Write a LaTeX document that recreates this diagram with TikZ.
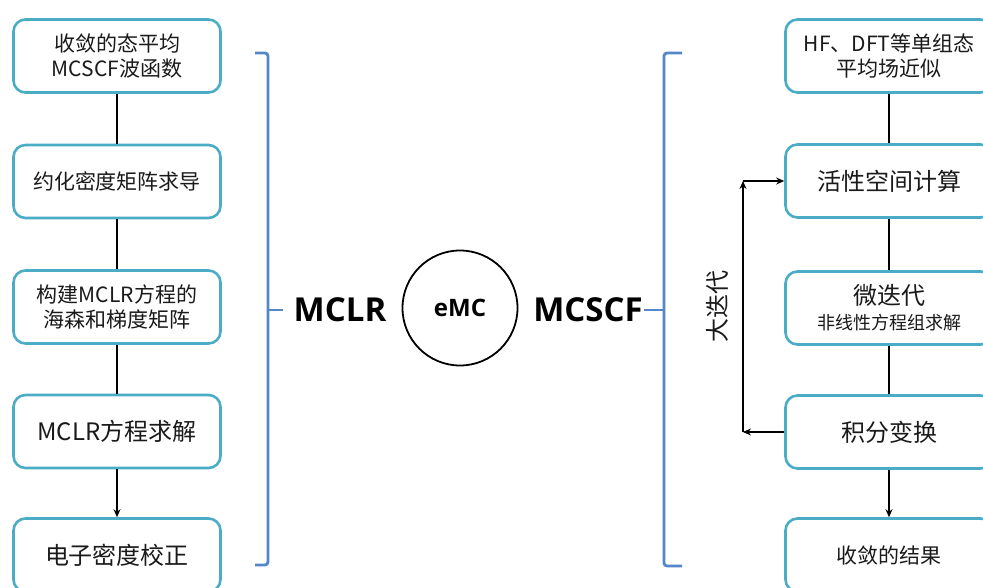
\documentclass[tikz,border=0pt]{standalone}
\usepackage{fontspec}
\setmainfont{Noto Sans CJK SC}
\newfontfamily\opsans{Open Sans}
\usetikzlibrary{arrows.meta}
\definecolor{boxc}{HTML}{4BACC6}
\definecolor{bracec}{HTML}{5486C8}
\definecolor{txt}{HTML}{1A1A1A}
\tikzset{
  stepbox/.style={draw=boxc, line width=2.6pt, rounded corners=12pt, minimum width=207pt, minimum height=73pt, align=center, fill=white, inner sep=0pt, text=txt},
  fa/.style={font=\fontsize{21pt}{25pt}\selectfont},
  fb/.style={font=\fontsize{24pt}{28pt}\selectfont},
  conn/.style={line width=1.4pt, black},
  arr/.style={conn, -{Stealth[length=8pt,width=7pt]}},
  bracestyle/.style={draw=bracec, line width=2.8pt, rounded corners=3pt},
  biglabel/.style={font=\opsans\bfseries\fontsize{33pt}{38pt}\selectfont, text=black, inner sep=0pt}
}
\begin{document}
\begin{tikzpicture}[x=1pt,y=-1pt]
\clip (0,0) rectangle (983,588);
\fill[white] (0,0) rectangle (983,588);
% left column
\node[stepbox, fa] (l1) at (117,56) {收敛的态平均\\MCSCF波函数};
\node[stepbox, fa] (l2) at (117,181.5) {约化密度矩阵求导};
\node[stepbox, fa] (l3) at (117,307) {构建MCLR方程的\\海森和梯度矩阵};
\node[stepbox, fb] (l4) at (117,431.5) {MCLR方程求解};
\node[stepbox, fb] (l5) at (117,555) {电子密度校正};
\draw[conn] (l1) -- (l2);
\draw[conn] (l2) -- (l3);
\draw[conn] (l3) -- (l4);
\draw[arr] (l4) -- (l5);
% right column
\node[stepbox, fa] (r1) at (889,56) {HF、DFT等单组态\\平均场近似};
\node[stepbox, font=\fontsize{18pt}{25pt}\selectfont] (r3) at (889,308) {{\fontsize{24pt}{25pt}\selectfont 微迭代}\\非线性方程组求解};
\node[stepbox, fb] (r2) at (889,181) {活性空间计算};
\node[stepbox, fb] (r4) at (889,432) {积分变换};
\node[stepbox, fa] (r5) at (889,555) {收敛的结果};
\draw[conn] (r1) -- (r2);
\draw[conn] (r2) -- (r3);
\draw[conn] (r3) -- (r4);
\draw[arr] (r4) -- (r5);
% big iteration loop
\coordinate (cb) at (743,432);
\coordinate (ct) at (743,181);
\draw[arr] (r4.west) -- (cb);
\draw[arr] (cb) -- (ct);
\draw[arr] (ct) -- (r2.west);
\node[fb, rotate=90, text=txt] (big) at (717,306) {大迭代};
% braces
\draw[bracestyle] (255,53) -- (268,53) -- (268,565) -- (255,565);
\draw[bracestyle] (268,310) -- (283,310);
\draw[bracestyle] (682,53) -- (664,53) -- (664,566) -- (682,566);
\draw[bracestyle] (664,310) -- (644,310);
% center
\node[biglabel] (mclr) at (340,310) {MCLR};
\node[biglabel] (mcscf) at (588,310) {MCSCF};
\node[draw, circle, line width=1.8pt, minimum size=115pt, inner sep=0pt, font=\opsans\bfseries\fontsize{24pt}{28pt}\selectfont] (emc) at (460,308) {eMC};
\end{tikzpicture}
\end{document}
